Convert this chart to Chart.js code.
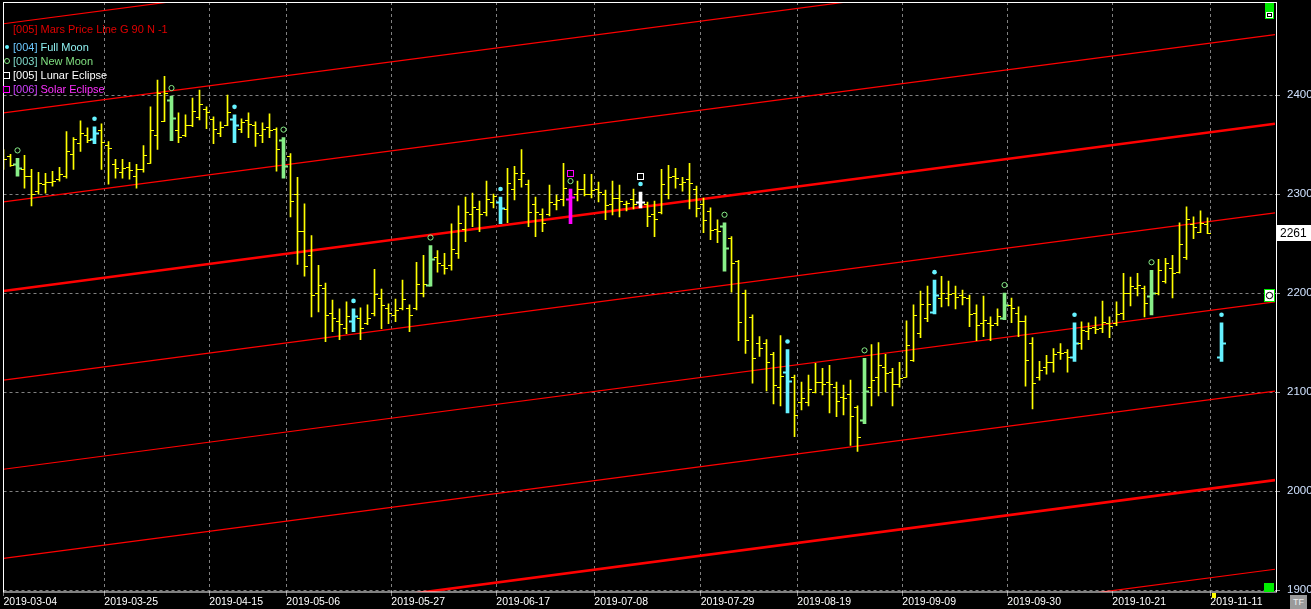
<!DOCTYPE html>
<html>
<head>
<meta charset="utf-8">
<script src="https://cdn.jsdelivr.net/npm/chart.js@4.4.1/dist/chart.umd.min.js"></script>
<style>
html, body { margin: 0; padding: 0; background: #000; }
#wrap { position: relative; width: 1311px; height: 609px; overflow: hidden; background: #000; }
#legend { position: absolute; left: 0; top: 0; font: 11px "Liberation Sans", Arial, sans-serif; }
.row { position: absolute; left: 13px; white-space: nowrap; line-height: 12px; }
.sym { position: absolute; left: -10px; top: 3px; box-sizing: border-box; }
#tf { position: absolute; left: 1290px; top: 595px; width: 17px; height: 14px; background: #9a9a9a;
      color: #eee; font: 9px "Liberation Sans", Arial, sans-serif; line-height: 14px; text-align: center; }
</style>
</head>
<body>
<div id="wrap">
  <canvas id="chart"></canvas>
  <div id="legend">
    <div class="row" style="top:23px;color:#e00000">[005] Mars Price Line G 90 N -1</div>
    <div class="row" style="top:41px"><span class="sym" style="left:-8px;top:4px;width:4px;height:4px;border-radius:2px;background:#66f2ff"></span><span style="color:#6cc8ff">[004]</span> <span style="color:#8ff0f0">Full Moon</span></div>
    <div class="row" style="top:55px"><span class="sym" style="left:-9px;width:6px;height:6px;border-radius:3px;border:1px solid #88ee88"></span><span style="color:#7fd8c8">[003]</span> <span style="color:#80e080">New Moon</span></div>
    <div class="row" style="top:69px;color:#ffffff"><span class="sym" style="width:7px;height:7px;border:1px solid #fff"></span>[005] Lunar Eclipse</div>
    <div class="row" style="top:83px"><span class="sym" style="width:7px;height:7px;border:1px solid #ff00ff"></span><span style="color:#d040ff">[006]</span> <span style="color:#ff30ff">Solar Eclipse</span></div>
  </div>
  <div id="tf">TF</div>
</div>
<script>
// tick labels (weekly dates) and the bar position they sit on
const xLabels = ['2019-03-04', '2019-03-25', '2019-04-15', '2019-05-06', '2019-05-27', '2019-06-17',
	'2019-07-08', '2019-07-29', '2019-08-19', '2019-09-09', '2019-09-30', '2019-10-21', '2019-11-11'];
const xLabelBars = [0, 14.4, 29.4, 40.4, 55.4, 70.4, 84.4, 99.6, 113.4, 128.4, 143.4, 158.4, 172.4];
const yTickValues = [1900, 2000, 2100, 2200, 2300, 2400];

// daily OHLC, one value per trading day (173 is empty, 174 is the projected bar)
const openPrices = [2343,2338,2330,2325,2318,2303,2310,2312,2315,2318,
	2340,2352,2360,2356,2365,2350,2330,2322,2327,2318,
	2325,2331,2360,2374,2395,2365,2360,2370,2378,2386,
	2376,2362,2370,2376,2366,2375,2370,2360,2368,2366,
	2355,2338,2300,2263,2238,2200,2205,2180,2172,2165,
	2172,2175,2170,2180,2195,2185,2178,2185,2185,2185,
	2200,2208,2236,2228,2228,2240,2265,2280,2285,2282,
	2292,2292,2285,2305,2315,2310,2290,2280,2280,2290,
	2295,2295,2300,2305,2300,2305,2300,2290,2296,2290,
	2295,2292,2290,2280,2282,2300,2318,2310,2315,2305,
	2290,2283,2265,2268,2256,2232,2200,2176,2150,2150,
	2138,2105,2120,2115,2090,2090,2100,2110,2110,2105,
	2095,2098,2085,2072,2105,2115,2125,2120,2108,2115,
	2132,2160,2175,2181,2195,2195,2200,2198,2195,2180,
	2170,2170,2170,2175,2188,2180,2172,2150,2115,2125,
	2130,2140,2140,2135,2150,2162,2166,2165,2170,2170,
	2180,2200,2205,2205,2197,2200,2212,2225,2221,2236,
	2270,2262,2270,null,2135];
const highPrices = [2345,2340,2336,2339,2325,2322,2321,2323,2327,2363,
	2357,2374,2367,2368,2371,2353,2335,2335,2332,2330,
	2349,2388,2415,2419,2399,2382,2380,2397,2405,2388,
	2378,2373,2400,2380,2376,2382,2373,2372,2381,2367,
	2357,2341,2317,2290,2258,2228,2210,2193,2184,2191,
	2184,2185,2188,2224,2204,2189,2194,2213,2188,2231,
	2238,2248,2243,2240,2270,2288,2297,2301,2293,2313,
	2300,2297,2326,2328,2345,2314,2297,2285,2309,2299,
	2331,2305,2313,2320,2320,2312,2304,2313,2309,2293,
	2305,2302,2292,2293,2325,2329,2326,2317,2331,2308,
	2296,2286,2274,2271,2257,2233,2203,2178,2156,2153,
	2140,2157,2143,2117,2110,2117,2129,2124,2127,2110,
	2107,2112,2086,2134,2148,2150,2138,2124,2130,2172,
	2188,2202,2207,2213,2217,2212,2207,2203,2198,2188,
	2197,2176,2184,2200,2195,2186,2177,2155,2131,2137,
	2144,2149,2143,2170,2171,2170,2176,2192,2176,2191,
	2220,2216,2220,2207,2223,2234,2235,2238,2271,2287,
	2277,2283,2276,null,2170];
const lowPrices = [2325,2328,2318,2306,2288,2300,2301,2308,2313,2316,
	2325,2343,2352,2351,2325,2310,2316,2316,2315,2306,
	2322,2331,2345,2373,2354,2352,2358,2368,2375,2366,
	2351,2358,2369,2352,2362,2357,2348,2352,2357,2323,
	2316,2277,2229,2217,2176,2181,2151,2161,2153,2159,
	2161,2153,2168,2177,2164,2169,2171,2183,2161,2183,
	2196,2207,2221,2219,2223,2235,2252,2267,2262,2278,
	2286,2270,2271,2294,2307,2267,2257,2262,2278,2284,
	2288,2270,2293,2298,2296,2292,2274,2279,2277,2283,
	2285,2286,2267,2257,2280,2295,2306,2303,2285,2277,
	2261,2254,2251,2222,2201,2152,2139,2109,2136,2101,
	2088,2086,2079,2055,2082,2086,2099,2097,2079,2075,
	2077,2046,2040,2068,2086,2096,2100,2086,2105,2115,
	2131,2155,2171,2179,2186,2187,2184,2188,2166,2152,
	2156,2152,2167,2173,2170,2156,2106,2083,2112,2118,
	2120,2133,2120,2131,2143,2153,2159,2160,2155,2167,
	2173,2187,2197,2176,2178,2198,2210,2195,2220,2234,
	2255,2261,2260,null,2131];
const closePrices = [2335,2329,2326,2318,2300,2311,2312,2313,2320,2343,
	2356,2362,2355,2362,2353,2347,2326,2326,2324,2325,
	2339,2365,2402,2402,2377,2358,2370,2384,2391,2383,
	2366,2368,2383,2370,2373,2371,2362,2366,2365,2346,
	2328,2293,2263,2227,2198,2208,2178,2175,2169,2177,
	2177,2165,2175,2199,2188,2180,2183,2194,2178,2209,
	2209,2234,2230,2225,2244,2271,2282,2287,2280,2295,
	2298,2286,2311,2321,2321,2282,2282,2271,2292,2294,
	2306,2297,2305,2300,2304,2302,2289,2296,2293,2291,
	2290,2292,2278,2275,2310,2317,2316,2312,2311,2286,
	2274,2264,2263,2245,2230,2171,2153,2134,2144,2130,
	2107,2116,2111,2077,2094,2103,2110,2108,2108,2091,
	2094,2076,2055,2101,2112,2127,2119,2108,2114,2148,
	2178,2189,2189,2198,2200,2199,2196,2196,2179,2168,
	2173,2168,2177,2188,2185,2172,2132,2109,2122,2130,
	2138,2139,2135,2150,2163,2165,2164,2171,2167,2179,
	2200,2207,2208,2190,2200,2223,2230,2220,2250,2275,
	2267,2271,2261,null,2150];

// moon events (bar index)
const fullMoonBars = [13, 33, 50, 71, 91, 112, 133, 153, 174];
const newMoonBars = [2, 24, 40, 61, 81, 103, 123, 143, 164];
const lunarEclipseBars = [91];
const solarEclipseBars = [81];

// Mars price lines: value at the left and at the right edge of the chart
const marsLeft = [1752, 1842, 1932, 2022, 2112, 2202, 2292, 2382, 2472];
const marsRight = [1921, 2011, 2101, 2191, 2281, 2371, 2461, 2551, 2641];
const marsThick = [false, true, false, false, false, true, false, false, false];

const xMin = 0, xMax = 181.64;
const yMin = 1898, yMax = 2494;

Chart.defaults.font.family = '"Liberation Sans", Arial, sans-serif';

function eventColor(i) {
	if (lunarEclipseBars.includes(i)) return '#ffffff';
	if (solarEclipseBars.includes(i)) return '#ff00ff';
	if (fullMoonBars.includes(i)) return '#66f2ff';
	if (newMoonBars.includes(i)) return '#88ee88';
	return null;
}

const plainRanges = [], eventRanges = [], eventColors = [];
highPrices.forEach((h, i) => {
	if (h == null) return;
	const c = eventColor(i);
	if (c) {
		eventRanges.push({ x: i, y: [lowPrices[i], h] });
		eventColors.push(c);
	} else {
		plainRanges.push({ x: i, y: [lowPrices[i], h] });
	}
});

const marsSets = marsLeft.map((v, k) => ({
	type: 'line',
	data: [{ x: xMin, y: v }, { x: xMax, y: marsRight[k] }],
	borderColor: '#ff0000',
	borderWidth: marsThick[k] ? 2.6 : 1.2,
	pointRadius: 0,
	order: 5
}));

// open/close ticks and moon markers
const ohlcPlugin = {
	id: 'ohlcTicks',
	afterDatasetsDraw(chart) {
		const { ctx, chartArea, scales: { x, y } } = chart;
		ctx.save();
		ctx.beginPath();
		ctx.rect(chartArea.left, chartArea.top, chartArea.width, chartArea.height);
		ctx.clip();
		highPrices.forEach((h, i) => {
			if (h == null) return;
			const px = x.getPixelForValue(i);
			const c = eventColor(i);
			const yo = Math.round(y.getPixelForValue(openPrices[i])) + 0.5;
			const yc = Math.round(y.getPixelForValue(closePrices[i])) + 0.5;
			ctx.strokeStyle = c || '#ffff00';
			ctx.lineWidth = c ? 2 : 1;
			const len = c ? 4.5 : 3.5;
			ctx.beginPath();
			ctx.moveTo(px - len, yo); ctx.lineTo(px, yo);
			ctx.moveTo(px, yc); ctx.lineTo(px + len, yc);
			ctx.stroke();

			const yh = y.getPixelForValue(h);
			ctx.lineWidth = 1;
			if (fullMoonBars.includes(i)) {
				ctx.fillStyle = '#66f2ff';
				ctx.beginPath(); ctx.arc(px, yh - 8, 2.3, 0, Math.PI * 2); ctx.fill();
			}
			if (newMoonBars.includes(i)) {
				ctx.strokeStyle = '#88ee88';
				ctx.beginPath(); ctx.arc(px, yh - 8, 2.6, 0, Math.PI * 2); ctx.stroke();
			}
			if (lunarEclipseBars.includes(i) || solarEclipseBars.includes(i)) {
				ctx.strokeStyle = lunarEclipseBars.includes(i) ? '#ffffff' : '#ff00ff';
				ctx.strokeRect(Math.round(px) - 3.5, Math.round(yh - 19) + 0.5, 6, 6);
			}
		});
		ctx.restore();
	},
	afterDraw(chart) {
		const { ctx, chartArea, scales: { y } } = chart;
		ctx.save();
		// frame
		ctx.strokeStyle = '#ffffff';
		ctx.lineWidth = 1;
		ctx.strokeRect(Math.round(chartArea.left) - 0.5, Math.round(chartArea.top) + 0.5,
			Math.round(chartArea.width) + 1, Math.round(chartArea.height) - 0.5);
		// last price box
		const lastIdx = closePrices.length - 3;
		const last = closePrices[lastIdx];
		const ly = Math.round(y.getPixelForValue(last));
		ctx.fillStyle = '#ffffff';
		ctx.fillRect(chartArea.right + 2, ly - 8, 40, 16);
		ctx.fillStyle = '#000000';
		ctx.font = '12px "Liberation Sans", Arial, sans-serif';
		ctx.textBaseline = 'middle';
		ctx.fillText(String(Math.round(last)), chartArea.right + 5, ly + 1);
		// little widgets at the right edge
		const r = Math.round(chartArea.right);
		ctx.fillStyle = '#00ee00';
		ctx.fillRect(r - 10, 3, 9, 8);
		ctx.fillRect(r - 10, 11, 9, 8);
		ctx.fillStyle = '#ffffff'; ctx.fillRect(r - 9, 12, 7, 6);
		ctx.fillStyle = '#000000'; ctx.fillRect(r - 8, 13, 5, 4);
		ctx.fillStyle = '#ffffff'; ctx.fillRect(r - 7, 14, 3, 2);
		ctx.fillStyle = '#00ee00';
		ctx.fillRect(r - 11, 583, 10, 9);
		const cy = Math.round(y.getPixelForValue(2200)) + 3;
		ctx.fillRect(r - 11, cy - 7, 11, 13);
		ctx.fillStyle = '#ffffff'; ctx.fillRect(r - 10, cy - 6, 9, 11);
		ctx.strokeStyle = '#000000';
		ctx.beginPath(); ctx.arc(r - 5.5, cy - 0.5, 3.2, 0, Math.PI * 2); ctx.stroke();
		ctx.fillStyle = '#ffff00';
		ctx.fillRect(1212, Math.round(chartArea.bottom) + 1, 4, 5);
		ctx.restore();
	}
};

new Chart(document.getElementById('chart'), {
	type: 'bar',
	data: {
		datasets: [
			{
				label: 'Bars',
				data: plainRanges,
				backgroundColor: '#ffff00',
				barThickness: 1,
				grouped: false,
				order: 2
			},
			{
				label: 'Moon bars',
				data: eventRanges,
				backgroundColor: eventColors,
				barThickness: 3,
				grouped: false,
				order: 1
			},
			...marsSets
		]
	},
	options: {
		responsive: true,
		maintainAspectRatio: false,
		animation: false,
		events: [],
		layout: { padding: { left: 3.5, top: 2, right: 0, bottom: 0 } },
		plugins: { legend: { display: false }, tooltip: { enabled: false } },
		scales: {
			x: {
				type: 'linear',
				min: xMin,
				max: xMax,
				offset: false,
				afterBuildTicks: s => { s.ticks = xLabelBars.map(v => ({ value: v })); },
				afterFit: s => { s.height = 17; s.paddingLeft = 0; s.paddingRight = 0; },
				grid: { color: '#808080', offset: false, tickLength: 4, tickColor: '#808080' },
				border: { display: false, dash: [3, 3] },
				ticks: {
					color: '#ffffff',
					font: { size: 10.5 },
					align: 'start',
					padding: 0,
					maxRotation: 0,
					autoSkip: false,
					callback: (v, i) => xLabels[i]
				}
			},
			y: {
				position: 'right',
				min: yMin,
				max: yMax,
				afterBuildTicks: s => { s.ticks = yTickValues.map(v => ({ value: v })); },
				afterFit: s => { s.width = 36; s.paddingTop = 0; s.paddingBottom = 0; },
				grid: { color: '#808080', tickLength: 5, tickColor: '#9a9a9a' },
				border: { display: false, dash: [3, 3] },
				ticks: { color: '#d0e2ff', font: { size: 11.5 }, padding: 7, callback: v => String(v) }
			}
		}
	},
	plugins: [ohlcPlugin]
});
</script>
</body>
</html>
